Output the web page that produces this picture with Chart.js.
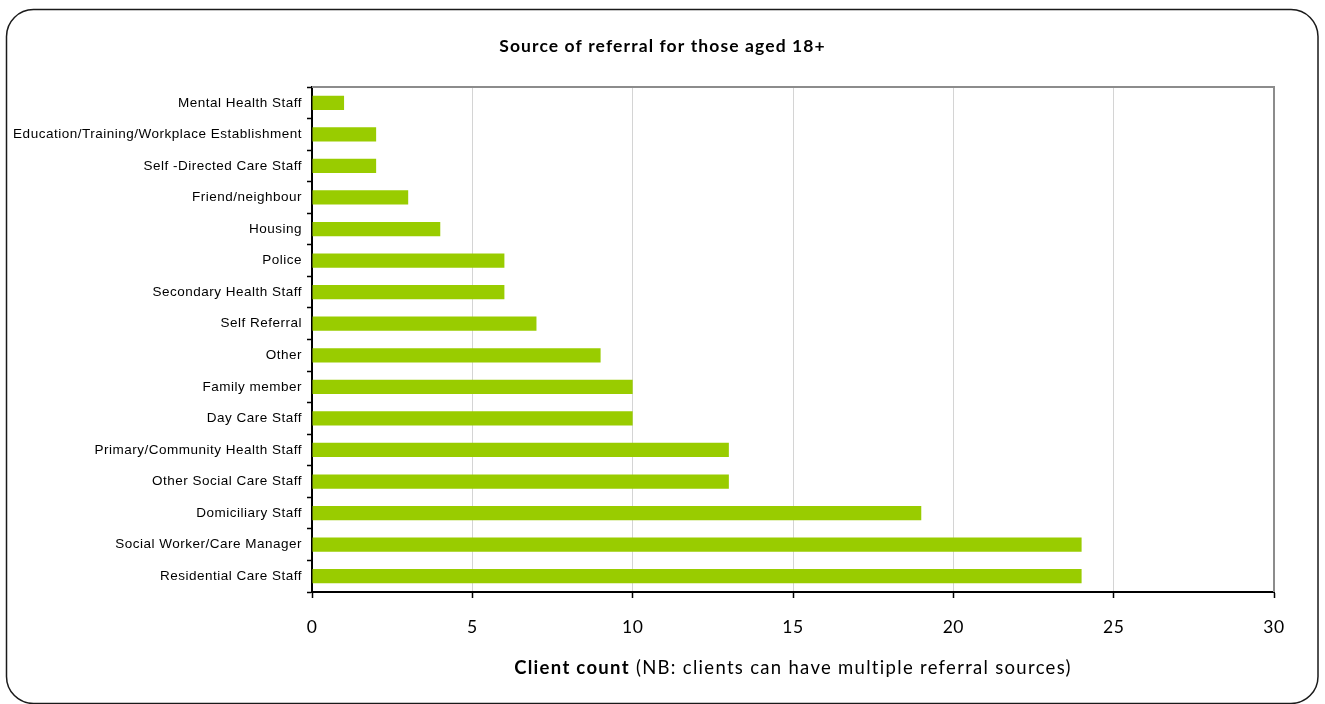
<!DOCTYPE html>
<html>
<head>
<meta charset="utf-8">
<title>Source of referral for those aged 18+</title>
<script src="https://cdn.jsdelivr.net/npm/chart.js@4.4.1/dist/chart.umd.min.js"></script>
<style>
  html, body { margin: 0; padding: 0; background: #fff; }
  #wrap { position: relative; width: 1325px; height: 704px; }
</style>
</head>
<body>
<div id="wrap"><canvas id="referralChart" width="1325" height="704"></canvas></div>
<script>
const sources = [
    'Mental Health Staff',
    'Education/Training/Workplace Establishment',
    'Self -Directed Care Staff',
    'Friend/neighbour',
    'Housing',
    'Police',
    'Secondary Health Staff',
    'Self Referral',
    'Other',
    'Family member',
    'Day Care Staff',
    'Primary/Community Health Staff',
    'Other Social Care Staff',
    'Domiciliary Staff',
    'Social Worker/Care Manager',
    'Residential Care Staff'
];
const clientCounts = [1, 2, 2, 3, 4, 6, 6, 7, 9, 10, 10, 13, 13, 19, 24, 24];
const countTicks = [0, 5, 10, 15, 20, 25, 30];

const chartTitle = 'Source of referral for those aged 18+';
const axisTitleBold = 'Client count';
const axisTitleRest = ' (NB: clients can have multiple referral sources)';

// rounded frame, plot frame (top/right), title and the two-part axis title
const decorations = {
    id: 'decorations',
    beforeDraw(chart) {
        const c = chart.ctx;
        c.save();
        c.fillStyle = '#fff';
        c.fillRect(0, 0, chart.width, chart.height);
        c.restore();
        // the axis labels are set a little loose
        c.letterSpacing = '0.5px';
    },
    afterDraw(chart) {
        const c = chart.ctx;
        const area = chart.chartArea;
        c.letterSpacing = '0px';
        c.save();

        // outer rounded box
        c.strokeStyle = '#1a1a1a';
        c.lineWidth = 1.5;
        c.beginPath();
        c.roundRect(6.5, 9.5, 1311.5, 694, 27);
        c.stroke();

        // top and right edges of the plot
        c.strokeStyle = '#8c8c8c';
        c.lineWidth = 2;
        c.beginPath();
        c.moveTo(area.left, area.top);
        c.lineTo(area.right, area.top);
        c.lineTo(area.right, area.bottom);
        c.stroke();

        c.fillStyle = '#000';
        c.textBaseline = 'middle';
        c.textAlign = 'left';

        c.letterSpacing = '1.1px';
        c.font = 'bold 17.5px Lato';
        const wTitle = c.measureText(chartTitle).width;
        c.fillText(chartTitle, chart.width / 2 - wTitle / 2, 46);

        c.letterSpacing = '1.3px';
        c.font = 'bold 18.5px Lato';
        const wBold = c.measureText(axisTitleBold).width;
        c.font = '18.5px Lato';
        const wRest = c.measureText(axisTitleRest).width;
        const x0 = (area.left + area.right) / 2 - (wBold + wRest) / 2;
        c.font = 'bold 18.5px Lato';
        c.fillText(axisTitleBold, x0, 668);
        c.font = '18.5px Lato';
        c.fillText(axisTitleRest, x0 + wBold, 668);

        c.restore();
    }
};

const ctx = document.getElementById('referralChart').getContext('2d');
new Chart(ctx, {
    type: 'bar',
    data: {
        labels: sources,
        datasets: [{
            label: 'Client count',
            data: clientCounts,
            backgroundColor: '#99cc00',
            borderWidth: 0,
            barPercentage: 1,
            categoryPercentage: 0.45
        }]
    },
    options: {
        indexAxis: 'y',
        responsive: false,
        animation: false,
        maintainAspectRatio: false,
        layout: {
            padding: { top: 87, right: 51, bottom: 0, left: 0 }
        },
        plugins: {
            legend: { display: false },
            title: { display: false },
            tooltip: { enabled: false }
        },
        scales: {
            x: {
                min: 0,
                max: 30,
                afterBuildTicks: (scale) => {
                    scale.ticks = countTicks.map(v => ({ value: v }));
                },
                afterFit: (scale) => { scale.height = 704 - 592; },
                border: { display: true, color: '#000', width: 2 },
                grid: {
                    color: (c) => c.index === countTicks.length - 1 ? 'rgba(0,0,0,0)' : '#d4d4d4',
                    lineWidth: 1,
                    drawTicks: true,
                    tickLength: 6,
                    tickColor: '#000',
                    tickWidth: 1.5
                },
                ticks: {
                    color: '#000',
                    padding: 19,
                    font: { family: 'Lato', size: 17.5 }
                }
            },
            y: {
                afterFit: (scale) => { scale.width = 312; },
                border: { display: true, color: '#000', width: 2 },
                grid: {
                    offset: true,
                    color: 'rgba(0,0,0,0)',
                    drawTicks: true,
                    tickLength: 5,
                    tickColor: '#000',
                    tickWidth: 1.5
                },
                ticks: {
                    color: '#000',
                    padding: 5,
                    autoSkip: false,
                    font: { family: 'Liberation Sans', size: 13.5 }
                }
            }
        }
    },
    plugins: [decorations]
});
</script>
</body>
</html>
